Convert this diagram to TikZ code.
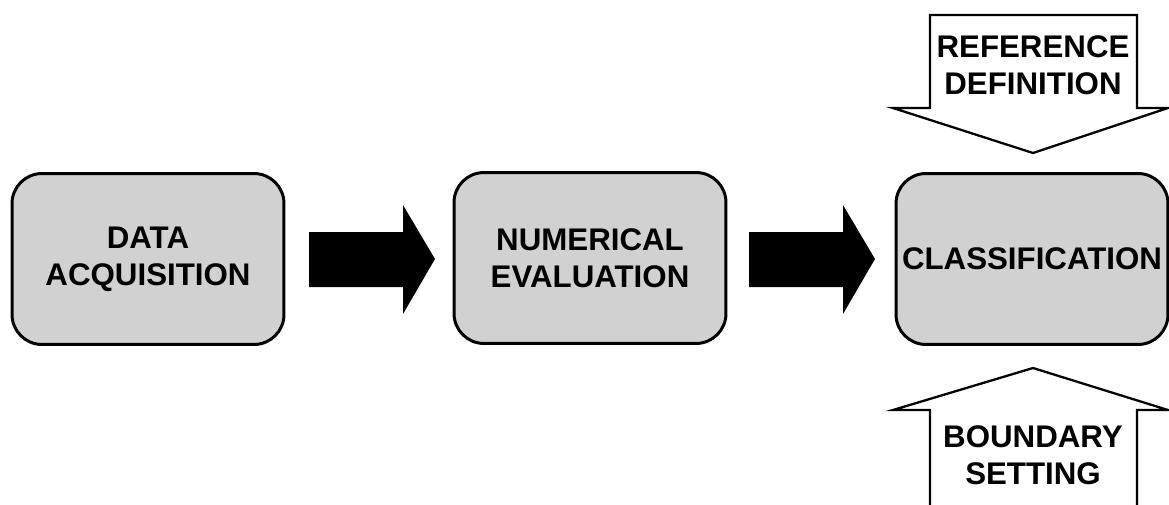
\documentclass[tikz,border=0pt]{standalone}
\usepackage{fontspec}
\setmainfont{Liberation Sans}
\usepackage{tikz}
\usetikzlibrary{calc}
\definecolor{boxgray}{gray}{0.82}
\tikzset{stage/.style={draw, line width=1.7pt, fill=boxgray, rounded corners=0.6cm, minimum width=5.44cm, minimum height=3.42cm, align=center, font=\bfseries\fontsize{17.8}{21}\selectfont}}
\tikzset{label text/.style={align=center, font=\bfseries\fontsize{17.8}{21}\selectfont}}
\tikzset{fatarrow/.style={fill=black}}
\tikzset{hollowarrow/.style={draw, line width=1.3pt, fill=white, line join=miter}}
\tikzset{every picture/.append style={x=0.02cm, y=-0.02cm}}

\begin{document}
\begin{tikzpicture}
  \useasboundingbox (0,0) rectangle (1169,504);
  \node (acq) at (148,259)[stage]{DATA\\ACQUISITION};
  \node (eval) at (590,258)[stage]{NUMERICAL\\EVALUATION};
  \node (cls) at (1032,259)[stage]{CLASSIFICATION};

  % black block arrows between the stages
  \fill[fatarrow] (309,232) -- (403,232) -- (403,205) -- (435,259) -- (403,314) -- (403,287) -- (309,287) -- cycle;
  \fill[fatarrow] (749,232) -- (843,232) -- (843,205) -- (875,259) -- (843,314) -- (843,287) -- (749,287) -- cycle;

  % inputs to the classification
  \draw[hollowarrow] (930,15) -- (1137,15) -- (1137,108) -- (1168,108) -- (1033,153) -- (893,108) -- (930,108) -- cycle;
  \node (refdef) at (1033,65)[label text]{REFERENCE\\DEFINITION};
  \draw[hollowarrow] (930,515) -- (930,410) -- (893,410) -- (1033,368) -- (1168,410) -- (1137,410) -- (1137,515);
  \node (bndset) at (1033,455)[label text]{BOUNDARY\\SETTING};
\end{tikzpicture}
\end{document}
